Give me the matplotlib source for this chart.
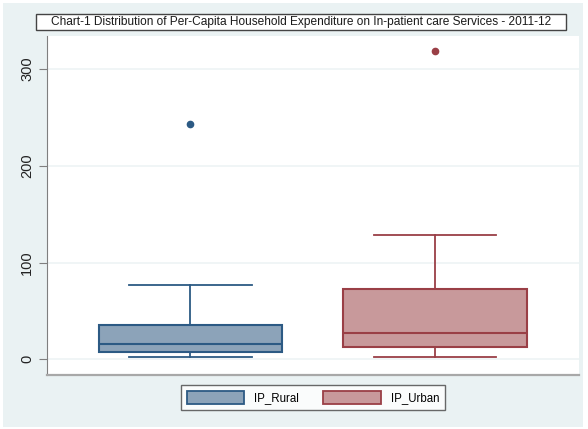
import matplotlib
matplotlib.use('Agg')
import matplotlib.pyplot as plt
from matplotlib.patches import Patch, Rectangle

plt.rcParams['font.family'] = ['Liberation Sans', 'DejaVu Sans']

# box plot summary
groups = ['IP_Rural', 'IP_Urban']
whislo = [2.4, 2.7]
q1 = [7.2, 12.7]
med = [15.8, 27.5]
q3 = [35.8, 73.0]
whishi = [76.5, 128.2]
outliers = [[243.0], [319.0]]
yticks = [0, 100, 200, 300]

fills = ['#8ca3b9', '#c8999b']
edges = ['#2c5a84', '#9a3f46']
bg = '#eaf2f3'

fig = plt.figure(figsize=(5.88, 4.29), dpi=100)
fig.patch.set_facecolor('white')
fig.patches.append(Rectangle((3 / 588, 2 / 429), 580 / 588, 424 / 429,
                             transform=fig.transFigure, facecolor=bg,
                             edgecolor='none', zorder=-10))

ax = fig.add_axes([46.7 / 588, 1 - 374.7 / 429, (579 - 46.7) / 588, (374.7 - 36) / 429])
ax.set_facecolor('white')

for i in range(len(groups)):
    st = [dict(med=med[i], q1=q1[i], q3=q3[i], whislo=whislo[i], whishi=whishi[i],
               fliers=outliers[i], label=groups[i])]
    ax.bxp(st, positions=[i + 1], widths=0.75, patch_artist=True,
           boxprops=dict(facecolor=fills[i], edgecolor=edges[i], linewidth=1.5),
           medianprops=dict(color=edges[i], linewidth=1.5),
           whiskerprops=dict(color=edges[i], linewidth=1.3),
           capprops=dict(color=edges[i], linewidth=1.3),
           capwidths=0.5,
           flierprops=dict(marker='o', markerfacecolor=edges[i], markeredgecolor=edges[i],
                           markersize=4.5))

ax.set_xlim(0.413, 2.587)
ax.set_ylim(-15.9, 334.3)
ax.set_xticks([])
ax.set_yticks(yticks)
ax.set_yticklabels([str(t) for t in yticks], rotation=90, va='center', fontsize=10.5,
                   color='#222222')
ax.tick_params(axis='y', length=6, color='#7f7f7f', pad=3)
ax.yaxis.grid(True, color='#eef3f5', linewidth=1.2)
ax.set_axisbelow(True)
for s in ['top', 'right']:
    ax.spines[s].set_visible(False)
ax.spines['left'].set_color('#7f7f7f')
ax.spines['bottom'].set_color('#a8a8a8')
ax.spines['bottom'].set_linewidth(1.6)

# title in a fixed-size white box
fig.patches.append(Rectangle((36 / 588, 1 - 29.5 / 429), 530 / 588, 16 / 429,
                             transform=fig.transFigure, facecolor='white',
                             edgecolor='#444444', linewidth=1, zorder=5))
fig.text(301 / 588, 1 - 21.5 / 429,
         'Chart-1 Distribution of Per-Capita Household Expenditure on In-patient care Services - 2011-12',
         ha='center', va='center', fontsize=8.6, color='#1a1a1a', zorder=6)

handles = [Patch(facecolor=fills[i], edgecolor=edges[i], linewidth=1.3, label=groups[i])
           for i in range(len(groups))]
leg = fig.legend(handles=handles, loc='center', bbox_to_anchor=(313 / 588, 1 - 397.5 / 429),
                 ncol=2, fontsize=8.3, handlelength=5.0, handleheight=1.35, handletextpad=0.85,
                 columnspacing=2.1, frameon=True, fancybox=False, borderpad=0.5)
leg.get_frame().set_edgecolor('#444444')
leg.get_frame().set_linewidth(1)

fig.savefig('out.png', dpi=100, facecolor=fig.get_facecolor())
